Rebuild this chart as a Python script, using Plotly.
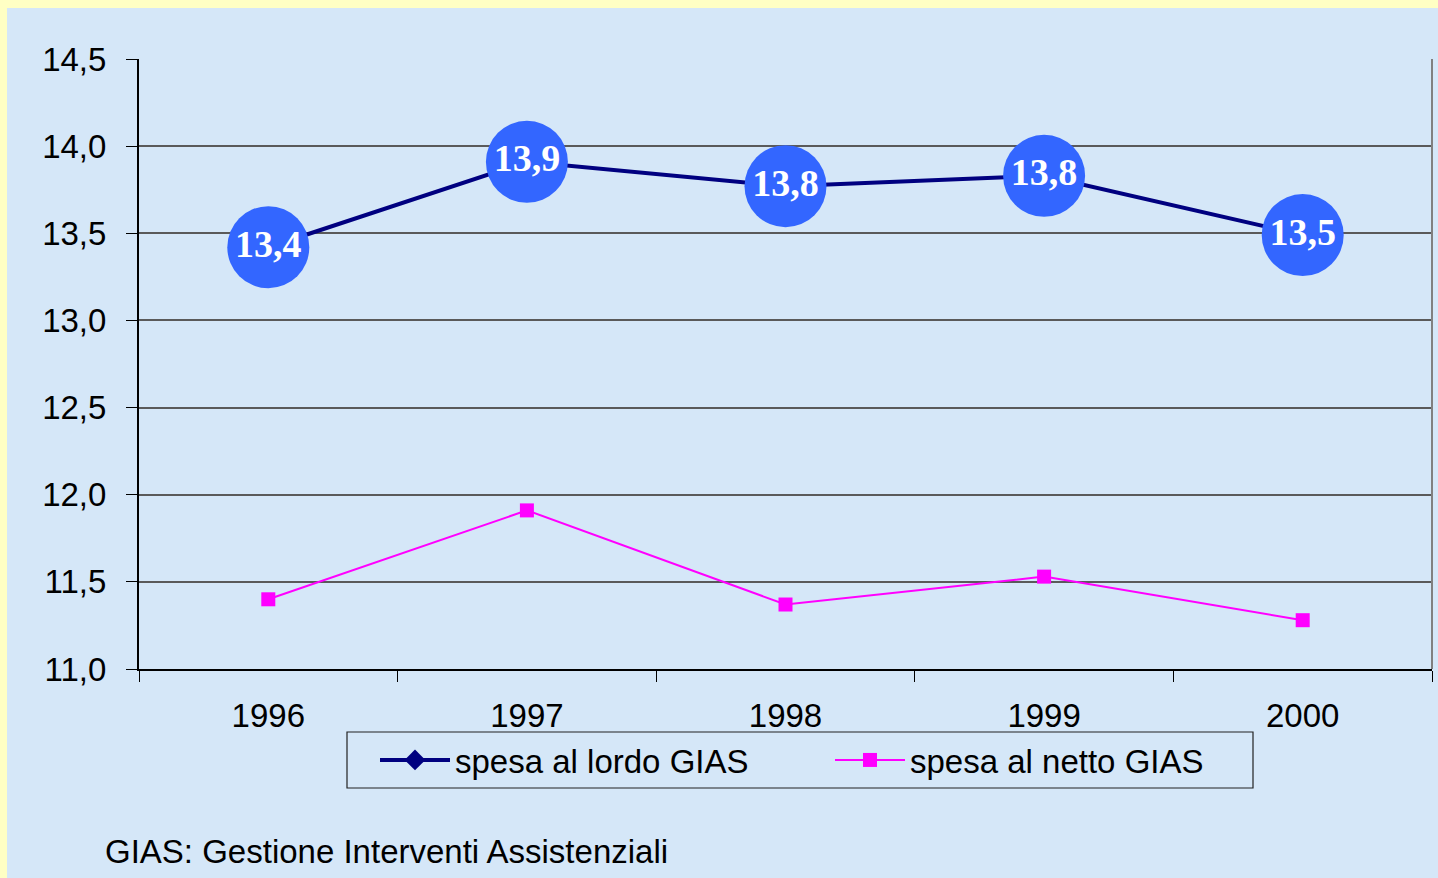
import plotly.graph_objects as go

years = ["1996", "1997", "1998", "1999", "2000"]
lordo = [13.42, 13.91, 13.77, 13.83, 13.49]
netto = [11.40, 11.91, 11.37, 11.53, 11.28]
lordo_labels = ["13,4", "13,9", "13,8", "13,8", "13,5"]
y_ticks = [11.0, 11.5, 12.0, 12.5, 13.0, 13.5, 14.0, 14.5]

W, H = 1438, 878
L, R, T, B = 139, 6, 59, 209
pw, ph = W - L - R, H - T - B

def px_x(p):
    return (p - L) / pw

def px_y(p):
    return (H - B - p) / ph

BG = "#d5e7f8"
font = "Liberation Sans, Arial, sans-serif"

fig = go.Figure()
fig.add_trace(go.Scatter(
    x=years, y=lordo, name="spesa al lordo GIAS", mode="lines+markers",
    line=dict(color="#000080", width=4),
    marker=dict(symbol="diamond", size=16, color="#000080"),
))
fig.add_trace(go.Scatter(
    x=years, y=netto, name="spesa al netto GIAS", mode="lines+markers",
    line=dict(color="#ff00ff", width=2),
    marker=dict(symbol="square", size=14, color="#ff00ff"),
))
fig.add_trace(go.Scatter(
    x=years, y=lordo, mode="markers+text", showlegend=False,
    text=lordo_labels, textposition="middle center",
    textfont=dict(family="Liberation Serif, Times New Roman, serif", size=38, color="white", weight="bold"),
    marker=dict(symbol="circle", size=82, color="#3366ff", line=dict(width=0)),
    hoverinfo="skip",
))

shapes = [
    dict(type="rect", xref="paper", yref="paper", layer="below",
         x0=px_x(7), x1=px_x(W + 5), y0=px_y(H + 5), y1=px_y(8),
         fillcolor=BG, line=dict(width=0)),
    dict(type="line", xref="paper", yref="paper", layer="above",
         x0=1, x1=1, y0=0, y1=1, line=dict(color="#808080", width=2)),
    dict(type="rect", xref="paper", yref="paper", layer="above",
         x0=px_x(347), x1=px_x(1253), y0=px_y(788), y1=px_y(732),
         line=dict(color="#222222", width=1.2), fillcolor="rgba(0,0,0,0)"),
]

fig.update_layout(
    width=W, height=H,
    margin=dict(l=L, r=R, t=T, b=B),
    paper_bgcolor="#ffffc4",
    plot_bgcolor=BG,
    separators=",.",
    font=dict(family=font, size=33, color="black"),
    shapes=shapes,
    showlegend=True,
    legend=dict(
        orientation="h", x=px_x(375), xanchor="left", y=px_y(760), yanchor="middle",
        borderwidth=0, bgcolor="rgba(0,0,0,0)",
        font=dict(family=font, size=33), itemwidth=70, entrywidth=370,
        tracegroupgap=0,
    ),
    annotations=[dict(
        text="GIAS: Gestione Interventi Assistenziali", xref="paper", yref="paper",
        x=px_x(103), y=px_y(851), xanchor="left", yanchor="middle", showarrow=False,
        font=dict(family=font, size=33, color="black"),
    )],
)
fig.update_xaxes(
    type="category", range=[-0.5, 4.5], tickson="boundaries", ticks="outside", ticklen=11,
    tickcolor="black", showline=True, linecolor="black", linewidth=2,
    showgrid=False, ticklabelstandoff=16, tickfont=dict(size=33),
)
fig.update_yaxes(
    range=[11.0, 14.5], tickvals=y_ticks, tickformat=".1f",
    ticks="outside", ticklen=11, tickcolor="black",
    showline=True, linecolor="black", linewidth=2,
    showgrid=True, gridcolor="#5a5a5a", gridwidth=1.5,
    zeroline=False, ticklabelstandoff=13, tickfont=dict(size=33),
)

fig.write_html("out.html", config={"displayModeBar": False},
               post_script="document.body.style.margin='0';document.body.style.overflow='hidden';")
